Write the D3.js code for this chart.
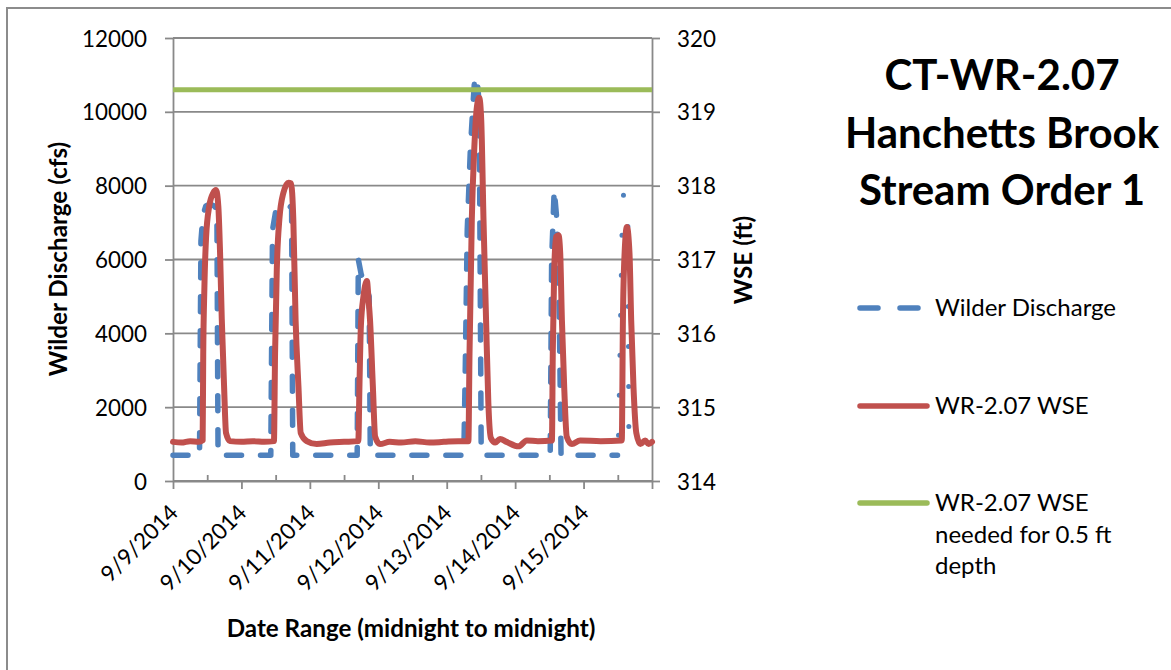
<!DOCTYPE html>
<html>
<head>
<meta charset="utf-8">
<script src="https://cdn.jsdelivr.net/npm/d3@7"></script>
<style>
  html, body { margin: 0; padding: 0; background: #fff; }
  svg { display: block; font-family: Lato, "Open Sans", sans-serif; }
</style>
</head>
<body>
<svg id="chart" width="1171" height="670"></svg>
<script>
// ---- data -------------------------------------------------------------
// Day labels for the category (date) axis, one per midnight.
const dayLabels = ["9/9/2014", "9/10/2014", "9/11/2014", "9/12/2014",
                   "9/13/2014", "9/14/2014", "9/15/2014"];

// Wilder Dam discharge (cfs); time in hours after 9/9/2014 00:00.
const dischargeHours = [
  0, 9.3, 9.8, 10.5, 11.5, 13, 14.5, 15.4, 15.8,
  34.3, 34.9, 36, 38, 40, 41.6, 42,
  64.6, 65.0, 66, 67.5, 68.8, 69.2,
  102, 102.5, 103.2, 104.3, 105.3, 105.8, 106.6, 107.4, 108.1,
  132.3, 132.8, 133.7, 134.6, 135.4, 136.1,
  155.9, 156.3, 157.5, 158.0, 158.6, 159.5, 159.8, 159.9, 160.1
];
const dischargeCfs = [
  700, 700, 6500, 7200, 7450, 7500, 7450, 7350, 700,
  700, 6800, 7300, 7400, 7500, 7400, 700,
  700, 6000, 5600, 5300, 5000, 700,
  700, 3000, 6800, 9000, 10300, 10900, 10950, 10200, 700,
  700, 6000, 7900, 7100, 5000, 700,
  700, 1300, 6800, 7750, 7850, 7500, 3000, 900, 700
];

// WR-2.07 water surface elevation (ft); time in hours after 9/9/2014 00:00.
const wseHours = [
  0, 3, 6, 9, 10.4, 10.6, 11, 11.6, 12.7, 14.1, 15.1, 15.9, 16.5, 17.1, 17.9, 18.6, 20,
  24, 28, 32, 35.4, 35.8, 36.4, 37.3, 38.7, 40.5, 41.4, 42.2, 43, 44, 44.8, 46.9, 50.4,
  55, 60, 65.0, 65.4, 65.9, 66.8, 67.6, 68.0, 68.6, 69.1, 70.1, 70.9, 72.6,
  76, 80, 85, 90, 95, 100, 103.6, 104, 104.8, 105.6, 106.6, 107.4, 108.1, 108.9, 109.8,
  110.6, 111.5, 113, 114.7, 117, 121.2, 124.1, 128,
  132.9, 133.2, 133.7, 134.4, 135.2, 135.8, 136.4, 137.2, 138.1, 139.9, 142.8, 150,
  157.4, 157.8, 158.4, 159.2, 160.1, 160.7, 161.5, 162.5, 163.9, 165.6, 166.8, 168
];
const wseFt = [
  314.53, 314.52, 314.54, 314.53, 314.55, 315.7, 316.6, 317.3, 317.72, 317.9, 317.94, 317.72, 317.1, 316.2, 315.3, 314.65, 314.54,
  314.53, 314.54, 314.53, 314.54, 315.73, 316.86, 317.54, 317.9, 318.04, 318.03, 317.54, 316.18, 315.28, 314.65, 314.54, 314.5,
  314.52, 314.53, 314.54, 315.3, 316.1, 316.5, 316.68, 316.71, 316.45, 316.18, 315.28, 314.6, 314.5,
  314.53, 314.52, 314.54, 314.52, 314.53, 314.54, 314.54, 315.73, 317.54, 318.44, 319.07, 319.19, 318.89, 317.54, 316.18,
  315.06, 314.58, 314.52, 314.57, 314.53, 314.47, 314.55, 314.54,
  314.55, 315.73, 316.86, 317.31, 317.33, 317.09, 316.18, 315.28, 314.6, 314.5, 314.55, 314.54,
  314.55, 316.18, 317.09, 317.44, 317.09, 316.18, 315.28, 314.65, 314.5, 314.55, 314.5, 314.53
];

// WSE needed for 0.5 ft depth (ft), constant over the period.
const wseNeededFt = 319.3;

const dischargeTicks = [0, 2000, 4000, 6000, 8000, 10000, 12000];
const wseTicks = [314, 315, 316, 317, 318, 319, 320];

const titleLines = ["CT-WR-2.07", "Hanchetts Brook", "Stream Order 1"];
const legendItems = [
  { lines: ["Wilder Discharge"], color: "#4F81BD", dashed: true },
  { lines: ["WR-2.07 WSE"], color: "#C0504D", dashed: false },
  { lines: ["WR-2.07 WSE", "needed for 0.5 ft", "depth"], color: "#9BBB59", dashed: false }
];

// ---- layout ------------------------------------------------------------
const svg = d3.select("#chart");
const W = 1171, H = 670;
const plot = { left: 173, right: 652, top: 38, bottom: 481 };
const gridColor = "#898989";
const textColor = "#000";
const blue = "#4F81BD", red = "#C0504D", green = "#9BBB59";
const tickFont = 22.4, labelFont = 24, axisTitleFont = 24.2, titleFont = 42;

svg.append("rect").attr("width", W).attr("height", H).attr("fill", "#fff");

// chart-area frame (top and left edges show in the canvas)
svg.append("path")
  .attr("d", `M7,${H} V8 H${W}`)
  .attr("fill", "none").attr("stroke", "#8c8c8c").attr("stroke-width", 2);

const start = new Date(2014, 8, 9);
const end = new Date(2014, 8, 16);
const hour = h => new Date(start.getTime() + h * 3600 * 1000);

const x = d3.scaleTime().domain([start, end]).range([plot.left, plot.right]);
const yL = d3.scaleLinear().domain([0, 12000]).range([plot.bottom, plot.top]);
const yR = d3.scaleLinear().domain([314, 320]).range([plot.bottom, plot.top]);

// horizontal gridlines
svg.append("g").selectAll("line").data(dischargeTicks).join("line")
  .attr("x1", plot.left).attr("x2", plot.right)
  .attr("y1", d => yL(d)).attr("y2", d => yL(d))
  .attr("stroke", gridColor).attr("stroke-width", 1.8);

// left axis
const gL = svg.append("g").attr("transform", `translate(${plot.left},0)`)
  .call(d3.axisLeft(yL).tickValues(dischargeTicks).tickFormat(d3.format("d"))
    .tickSize(8).tickPadding(18).tickSizeOuter(0));
// right axis
const gR = svg.append("g").attr("transform", `translate(${plot.right},0)`)
  .call(d3.axisRight(yR).tickValues(wseTicks).tickFormat(d3.format("d"))
    .tickSize(8).tickPadding(17).tickSizeOuter(0));

// bottom axis: major ticks at midnight (outside), minor at noon (inside)
const days = d3.timeDay.range(start, d3.timeDay.offset(end, 1));
const gX = svg.append("g").attr("transform", `translate(0,${plot.bottom})`)
  .call(d3.axisBottom(x).tickValues(days).tickSize(8).tickSizeOuter(0)
    .tickFormat((d, i) => dayLabels[i] || ""));
const noons = days.slice(0, -1).map(d => d3.timeHour.offset(d, 12));
const gXm = svg.append("g").attr("transform", `translate(0,${plot.bottom})`)
  .call(d3.axisBottom(x).tickValues(noons).tickSize(-6).tickSizeOuter(0).tickFormat(""));
gXm.select(".domain").remove();

[gL, gR, gX, gXm].forEach(g => {
  g.selectAll(".domain").attr("stroke", gridColor).attr("stroke-width", 1.8);
  g.selectAll(".tick line").attr("stroke", gridColor).attr("stroke-width", 1.8);
});
[gL, gR].forEach(g => g.selectAll(".tick text")
  .attr("font-family", "Lato").attr("font-size", tickFont).attr("fill", textColor)
  .attr("dy", "0.36em"));

gX.selectAll(".tick text")
  .attr("font-family", "Lato").attr("font-size", tickFont).attr("fill", textColor)
  .attr("text-anchor", "end")
  .attr("y", 0).attr("dy", 0)
  .attr("transform", "translate(6,33) rotate(-45)");

// ---- series -----------------------------------------------------------
const discharge = dischargeHours.map((h, i) => ({ t: hour(h), v: dischargeCfs[i] }));
const wse = wseHours.map((h, i) => ({ t: hour(h), v: wseFt[i] }));

const lineL = d3.line().x(d => x(d.t)).y(d => yL(d.v));
const lineR = d3.line().x(d => x(d.t)).y(d => yR(d.v)).curve(d3.curveMonotoneX);

// discharge: long dashes, the last release renders as a dotted trace
const split = dischargeHours.indexOf(155.9);
svg.append("path").datum(discharge.slice(0, split + 1))
  .attr("d", lineL).attr("fill", "none").attr("stroke", blue)
  .attr("stroke-width", 5.5).attr("stroke-linecap", "round").attr("stroke-linejoin", "round")
  .attr("stroke-dasharray", "15 19");
svg.append("path").datum(discharge.slice(split))
  .attr("d", lineL).attr("fill", "none").attr("stroke", blue)
  .attr("stroke-width", 5).attr("stroke-linecap", "round").attr("stroke-linejoin", "round")
  .attr("stroke-dasharray", "0 40").attr("stroke-dashoffset", -20);

// WSE
svg.append("path").datum(wse)
  .attr("d", lineR).attr("fill", "none").attr("stroke", red)
  .attr("stroke-width", 6).attr("stroke-linecap", "round").attr("stroke-linejoin", "round");

// WSE needed
svg.append("line")
  .attr("x1", x(start)).attr("x2", x(end))
  .attr("y1", yR(wseNeededFt)).attr("y2", yR(wseNeededFt))
  .attr("stroke", green).attr("stroke-width", 5);

// ---- axis titles ------------------------------------------------------
svg.append("text")
  .attr("x", 411).attr("y", 637).attr("text-anchor", "middle")
  .attr("font-family", "Lato").attr("font-weight", "bold").attr("font-size", axisTitleFont)
  .text("Date Range (midnight to midnight)");
svg.append("text")
  .attr("transform", "translate(66.5,259) rotate(-90)").attr("text-anchor", "middle")
  .attr("font-family", "Lato").attr("font-weight", "bold").attr("font-size", axisTitleFont)
  .text("Wilder Discharge (cfs)");
svg.append("text")
  .attr("transform", "translate(752,260) rotate(-90)").attr("text-anchor", "middle")
  .attr("font-family", "Lato").attr("font-weight", "bold").attr("font-size", axisTitleFont)
  .text("WSE (ft)");

// ---- title ------------------------------------------------------------
svg.append("g").selectAll("text").data(titleLines).join("text")
  .attr("x", 1002).attr("y", (d, i) => 90 + i * 57.5)
  .attr("text-anchor", "middle")
  .attr("font-family", "Lato").attr("font-weight", "bold").attr("font-size", titleFont)
  .text(d => d);

// ---- legend -----------------------------------------------------------
const legendY = [308, 406, 503];
const lg = svg.append("g");
legendItems.forEach((item, i) => {
  const y = legendY[i];
  if (item.dashed) {
    lg.append("line").attr("x1", 860).attr("x2", 918).attr("y1", y).attr("y2", y)
      .attr("stroke", item.color).attr("stroke-width", 5.5).attr("stroke-linecap", "round")
      .attr("stroke-dasharray", "18 22");
  } else {
    lg.append("line").attr("x1", 860).attr("x2", 927).attr("y1", y).attr("y2", y)
      .attr("stroke", item.color).attr("stroke-width", 5.5).attr("stroke-linecap", "round");
  }
  item.lines.forEach((t, j) => {
    lg.append("text").attr("x", 935).attr("y", y + 8 + j * 31.7)
      .attr("font-family", "Lato").attr("font-size", labelFont).attr("fill", textColor)
      .text(t);
  });
});
</script>
</body>
</html>
